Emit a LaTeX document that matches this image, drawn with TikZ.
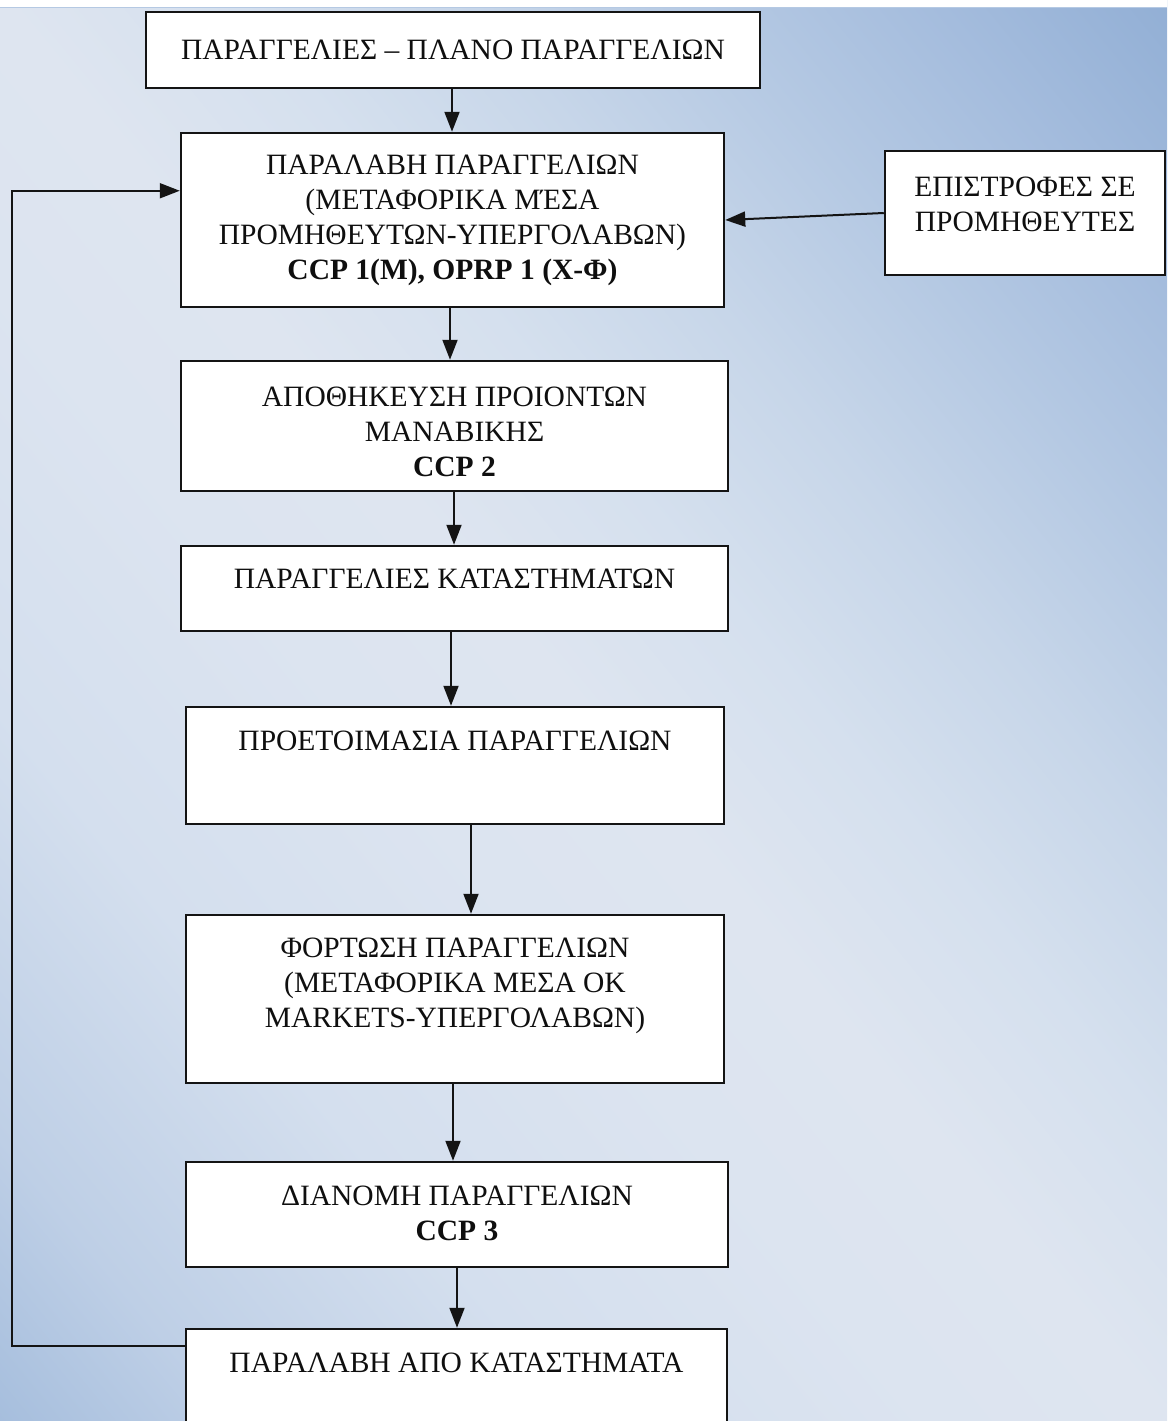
\documentclass[tikz,border=0pt]{standalone}
\usepackage{fontspec}
\setmainfont{Liberation Serif}
\usetikzlibrary{arrows.meta}

% background tones, from the lower left corner across to the upper right corner
\definecolor{bgA}{RGB}{166,190,221}
\definecolor{bgB}{RGB}{190,207,230}
\definecolor{bgC}{RGB}{212,223,238}
\definecolor{bgD}{RGB}{220,228,240}
\definecolor{bgE}{RGB}{222,229,240}
\definecolor{bgF}{RGB}{213,224,238}
\definecolor{bgG}{RGB}{199,214,233}
\definecolor{bgH}{RGB}{181,201,227}
\definecolor{bgI}{RGB}{164,188,221}
\definecolor{bgJ}{RGB}{146,175,213}
\definecolor{edge}{RGB}{20,20,20}
\definecolor{ink}{RGB}{15,15,15}

\pgfdeclarehorizontalshading{bgshade}{100bp}{%
  color(0bp)=(bgA); color(25bp)=(bgA); color(30bp)=(bgB); color(37.5bp)=(bgC);
  color(45bp)=(bgD); color(50bp)=(bgE); color(55bp)=(bgF); color(60bp)=(bgG);
  color(65bp)=(bgH); color(70bp)=(bgI); color(75bp)=(bgJ); color(100bp)=(bgJ)}

\tikzset{
  box/.style={rectangle, draw=edge, line width=2.5pt, fill=white, inner sep=0pt},
  txt/.style={align=center, inner sep=0pt, text=ink,
              font=\fontsize{29.5pt}{35pt}\selectfont},
  link/.style={draw=edge, line width=2pt},
  arr/.style={link, -{Triangle[length=20pt,width=15pt]}},
}

\begin{document}
\begin{tikzpicture}[x=1pt, y=-1pt]
\useasboundingbox (0,0) rectangle (1167,1421);
\begin{scope}
\clip (0,0) rectangle (1167,1421);

% diagonal gradient background
\shade[shading=bgshade, transform canvas={shift={(0pt,-1421pt)}, rotate=39.4}]
  (0pt,-800pt) rectangle (1804pt,1150pt);
\fill[white] (0,0) rectangle (1167,7);
\draw[line width=1pt, color=bgH] (0,7.5) -- (1167,7.5);

% process boxes
\node[box, minimum width=614pt, minimum height=76pt]  (top)  at (453,50)     {};
\node[box, minimum width=543pt, minimum height=174pt] (recv) at (452.5,220)  {};
\node[box, minimum width=280pt, minimum height=124pt] (ret)  at (1025,213)   {};
\node[box, minimum width=547pt, minimum height=130pt] (stor) at (454.5,426)  {};
\node[box, minimum width=547pt, minimum height=85pt]  (shop) at (454.5,588.5){};
\node[box, minimum width=538pt, minimum height=117pt] (prep) at (455,765.5)  {};
\node[box, minimum width=538pt, minimum height=168pt] (load) at (455,999)    {};
\node[box, minimum width=542pt, minimum height=105pt] (dist) at (457,1214.5) {};
\node[box, minimum width=541pt, minimum height=100pt] (rcpt) at (456.5,1379) {};

% box texts
\node[txt] (top-t)  at (453,50)     {ΠΑΡΑΓΓΕΛΙΕΣ – ΠΛΑΝΟ ΠΑΡΑΓΓΕΛΙΩΝ};
\node[txt] (recv-t) at (452.5,220.5){ΠΑΡΑΛΑΒΗ ΠΑΡΑΓΓΕΛΙΩΝ\\(ΜΕΤΑΦΟΡΙΚΑ ΜΈΣΑ\\ΠΡΟΜΗΘΕΥΤΩΝ-ΥΠΕΡΓΟΛΑΒΩΝ)\\\textbf{CCP 1(Μ), OPRP 1 (Χ-Φ)}};
\node[txt] (ret-t)  at (1025,204)   {ΕΠΙΣΤΡΟΦΕΣ ΣΕ\\ΠΡΟΜΗΘΕΥΤΕΣ};
\node[txt] (stor-t) at (454.5,432)  {ΑΠΟΘΗΚΕΥΣΗ ΠΡΟΙΟΝΤΩΝ\\ΜΑΝΑΒΙΚΗΣ\\\textbf{CCP 2}};
\node[txt] (shop-t) at (454.5,579)  {ΠΑΡΑΓΓΕΛΙΕΣ ΚΑΤΑΣΤΗΜΑΤΩΝ};
\node[txt] (prep-t) at (455,741)    {ΠΡΟΕΤΟΙΜΑΣΙΑ ΠΑΡΑΓΓΕΛΙΩΝ};
\node[txt] (load-t) at (455,986)    {ΦΟΡΤΩΣΗ ΠΑΡΑΓΓΕΛΙΩΝ\\(ΜΕΤΑΦΟΡΙΚΑ ΜΕΣΑ OK\\MARKETS-ΥΠΕΡΓΟΛΑΒΩΝ)};
\node[txt] (dist-t) at (457,1213.5) {ΔΙΑΝΟΜΗ ΠΑΡΑΓΓΕΛΙΩΝ\\\textbf{CCP 3}};
\node[txt] (rcpt-t) at (456.5,1363) {ΠΑΡΑΛΑΒΗ ΑΠΟ ΚΑΤΑΣΤΗΜΑΤΑ};

% downward flow
\coordinate (a1) at ([xshift=-1pt]top.south);
\coordinate (a2) at ([xshift=-2.5pt]recv.south);
\coordinate (a3) at ([xshift=-0.5pt]stor.south);
\coordinate (a4) at ([xshift=-3.5pt]shop.south);
\coordinate (a5) at ([xshift=16pt]prep.south);
\coordinate (a6) at ([xshift=-2pt]load.south);
\coordinate (a7) at ([xshift=0pt]dist.south);
\draw[arr] (a1) -- (a1 |- recv.north);
\draw[arr] (a2) -- (a2 |- stor.north);
\draw[arr] (a3) -- (a3 |- shop.north);
\draw[arr] (a4) -- (a4 |- prep.north);
\draw[arr] (a5) -- (a5 |- load.north);
\draw[arr] (a6) -- (a6 |- dist.north);
\draw[arr] (a7) -- (a7 |- rcpt.north);

% returns to suppliers
\draw[arr] (ret.west) -- (recv.east);

% feedback loop from the stores back to receiving
\coordinate (fout) at ([yshift=-18pt]rcpt.north west);
\coordinate (fin)  at ([yshift=-59pt]recv.north west);
\coordinate (rail) at (12,0);
\draw[arr] (fout) -- (rail |- fout) -- (rail |- fin) -- (fin);
\end{scope}
\end{tikzpicture}
\end{document}
